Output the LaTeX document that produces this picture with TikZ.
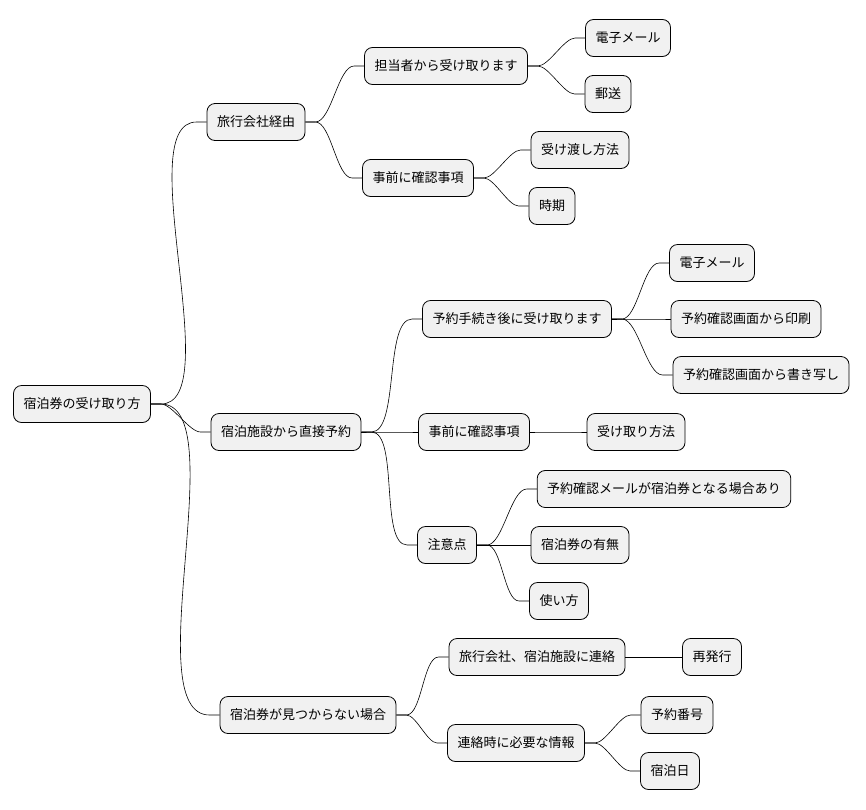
\documentclass[tikz,border=0pt]{standalone}
\usepackage{fontspec}
\setmainfont{Noto Sans CJK JP}
\begin{document}
\begin{tikzpicture}[x=1pt,y=-1pt,
  mm/.style={draw=black,line width=0.8pt,fill={rgb,255:red,241;green,241;blue,241},rounded corners=8pt,minimum height=37pt,inner xsep=10pt,font=\fontsize{13}{15}\selectfont},
  ln/.style={line width=0.6pt}]
\useasboundingbox (0,0) rectangle (866,809);
\node[mm] (r) at (82,404) {宿泊券の受け取り方};
\node[mm] (a) at (256,122) {旅行会社経由};
\node[mm] (a1) at (446,66) {担当者から受け取ります};
\node[mm] (a11) at (628,38) {電子メール};
\node[mm] (a12) at (608,94) {郵送};
\node[mm] (a2) at (418,178) {事前に確認事項};
\node[mm] (a21) at (580,150) {受け渡し方法};
\node[mm] (a22) at (552,206) {時期};
\node[mm] (b) at (286,432) {宿泊施設から直接予約};
\node[mm] (b1) at (517,319) {予約手続き後に受け取ります};
\node[mm] (b11) at (712,263) {電子メール};
\node[mm] (b12) at (746,319) {予約確認画面から印刷};
\node[mm] (b13) at (761,375) {予約確認画面から書き写し};
\node[mm] (b2) at (474,432) {事前に確認事項};
\node[mm] (b21) at (636,432) {受け取り方法};
\node[mm] (b3) at (447,545) {注意点};
\node[mm] (b31) at (664,489) {予約確認メールが宿泊券となる場合あり};
\node[mm] (b32) at (580,545) {宿泊券の有無};
\node[mm] (b33) at (559,601) {使い方};
\node[mm] (c) at (308,715) {宿泊券が見つからない場合};
\node[mm] (c1) at (537,657) {旅行会社、宿泊施設に連絡};
\node[mm] (c11) at (712,657) {再発行};
\node[mm] (c2) at (516,743) {連絡時に必要な情報};
\node[mm] (c21) at (677,715) {予約番号};
\node[mm] (c22) at (670,771) {宿泊日};
\foreach \p/\c in {r/a,r/b,r/c,a/a1,a/a2,a1/a11,a1/a12,a2/a21,a2/a22,b/b1,b/b2,b/b3,b1/b11,b1/b12,b1/b13,b2/b21,b3/b31,b3/b32,b3/b33,c/c1,c/c2,c1/c11,c2/c21,c2/c22}
  \draw[ln] (\p.east) -- ++(10,0) to[out=0,in=180,looseness=0.6] ([xshift=-10pt]\c.west) -- (\c.west);
\end{tikzpicture}
\end{document}
